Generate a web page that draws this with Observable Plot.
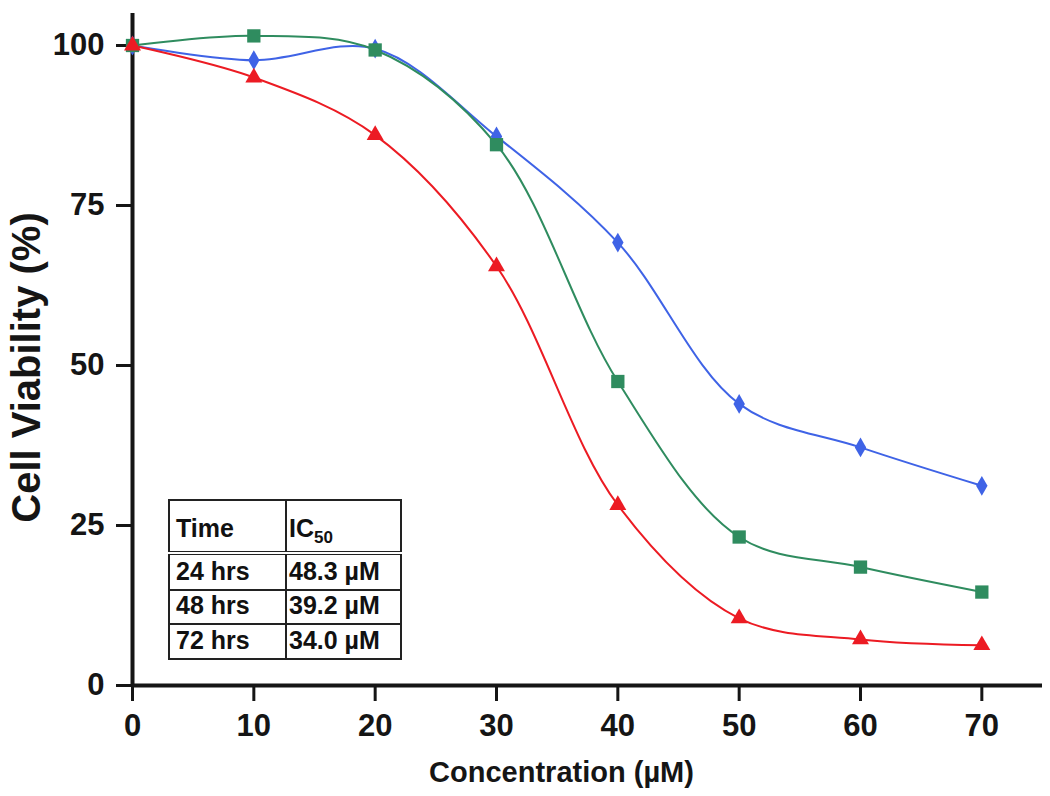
<!DOCTYPE html>
<html>
<head>
<meta charset="utf-8">
<script src="https://cdn.jsdelivr.net/npm/d3@7"></script>
<script src="https://cdn.jsdelivr.net/npm/@observablehq/plot@0.6"></script>
<style>
  body { margin: 0; background: #fff; }
  #wrap { position: relative; width: 1050px; height: 796px; font-family: "Liberation Sans", Arial, Helvetica, sans-serif; }
  #ic50 { position: absolute; left: 168px; top: 499px; border-collapse: collapse; background: #fff;
          font-family: "Liberation Sans", Arial, sans-serif; font-weight: bold; font-size: 25px; color: #111; }
  #ic50 td { border: 2px solid #222; padding: 0 0 5px 0; vertical-align: bottom; line-height: 1; white-space: nowrap; }
  #ic50 td.c1 { width: 109px; padding-left: 6px; }
  #ic50 td.c2 { width: 111px; padding-left: 2px; }
  #ic50 tr.head td { border-bottom: 4px double #222; height: 40px; padding-bottom: 10px; }
  #ic50 sub { font-size: 17px; vertical-align: -6px; line-height: 0; }
</style>
</head>
<body>
<div id="wrap"></div>
<script>
// ---- data ----
const concentrations = [0, 10, 20, 30, 40, 50, 60, 70];
const viability24 = [100, 97.7, 99.5, 85.8, 69.2, 44.0, 37.2, 31.2];
const viability48 = [100, 101.5, 99.3, 84.5, 47.5, 23.2, 18.5, 14.6];
const viability72 = [100, 95.0, 86.0, 65.5, 28.2, 10.5, 7.2, 6.3];
const seriesNames = ["24 hrs", "48 hrs", "72 hrs"];
const seriesColors = ["#3f63e6", "#2f8c5f", "#ec1b23"];
const seriesSymbols = ["diamond", "square", "triangle"];
const seriesRadius = [6, 7.5, 6.3];
const xTicks = [0, 10, 20, 30, 40, 50, 60, 70];
const yTicks = [0, 25, 50, 75, 100];
const tableTimes = ["24 hrs", "48 hrs", "72 hrs"];
const tableIC50 = ["48.3 µM", "39.2 µM", "34.0 µM"];
const xLabel = "Concentration (µM)";
const yLabel = "Cell Viability (%)";

const allSeries = [viability24, viability48, viability72];
const data = [];
allSeries.forEach((vals, s) => {
  concentrations.forEach((c, i) => data.push({series: seriesNames[s], x: c, y: vals[i]}));
});

const font = "'Liberation Sans', Arial, Helvetica, sans-serif";
const axisColor = "#151515";

const dotMarks = seriesNames.map((name, s) =>
  Plot.dot(data.filter(d => d.series === name), {x: "x", y: "y", fill: "series", symbol: "series", r: seriesRadius[s], stroke: "none"})
);

const chart = Plot.plot({
  width: 1050,
  height: 796,
  marginLeft: 132,
  marginRight: 8,
  marginTop: 13,
  marginBottom: 111,
  style: {fontFamily: font, fontWeight: "bold", color: axisColor, background: "#fff"},
  x: {domain: [0, 75]},
  y: {domain: [0, 105]},
  color: {domain: seriesNames, range: seriesColors},
  symbol: {domain: seriesNames, range: seriesSymbols},
  marks: [
    Plot.axisX({ticks: xTicks, tickSize: 16, tickPadding: 12, fontSize: 31, fontWeight: "bold", strokeWidth: 3, label: null, stroke: axisColor}),
    Plot.axisY({ticks: yTicks, tickSize: 16, tickPadding: 12, fontSize: 31, fontWeight: "bold", strokeWidth: 3, label: null, stroke: axisColor}),
    Plot.ruleX([0], {stroke: axisColor, strokeWidth: 4}),
    Plot.ruleY([0], {stroke: axisColor, strokeWidth: 4}),
    Plot.line(data, {x: "x", y: "y", z: "series", stroke: "series", strokeWidth: 2, curve: "catmull-rom"}),
    ...dotMarks,
    Plot.text([xLabel], {frameAnchor: "bottom", dx: -26, dy: 76, lineAnchor: "top", fontSize: 29, fontWeight: "bold", fill: axisColor}),
    Plot.text([yLabel], {frameAnchor: "left", textAnchor: "middle", rotate: -90, dx: -105, dy: 18, fontSize: 40, fontWeight: "bold", fill: axisColor})
  ]
});

const wrap = document.getElementById("wrap");
wrap.appendChild(chart);

// IC50 table overlay
const table = document.createElement("table");
table.id = "ic50";
const head = document.createElement("tr");
head.className = "head";
head.innerHTML = `<td class="c1">Time</td><td class="c2">IC<sub>50</sub></td>`;
table.appendChild(head);
const rowHeights = [36, 34, 35];
tableTimes.forEach((t, i) => {
  const tr = document.createElement("tr");
  const a = document.createElement("td"); a.className = "c1"; a.textContent = t;
  const b = document.createElement("td"); b.className = "c2"; b.textContent = tableIC50[i];
  a.style.height = (rowHeights[i] - 7) + "px";
  tr.appendChild(a); tr.appendChild(b);
  table.appendChild(tr);
});
wrap.appendChild(table);
</script>
</body>
</html>
